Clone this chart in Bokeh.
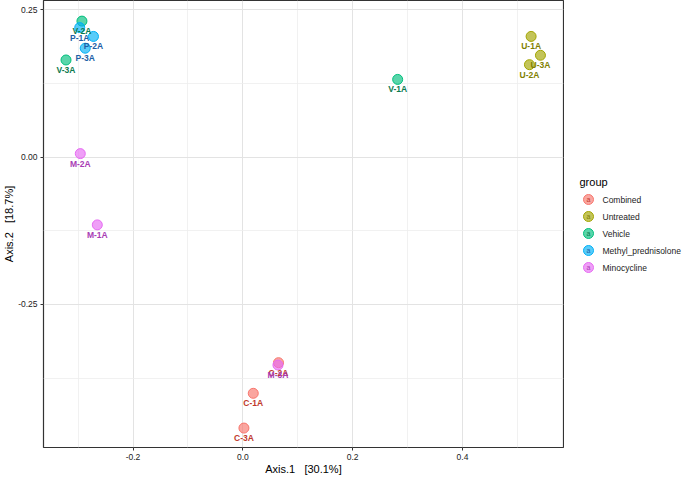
from bokeh.plotting import figure
from bokeh.layouts import row
from bokeh.models import (Range1d, FixedTicker, ColumnDataSource, NumeralTickFormatter)
from bokeh.embed import file_html
from bokeh.resources import INLINE
from bokeh.core.properties import value

# ---- data ----
groups = ["Combined", "Untreated", "Vehicle", "Methyl_prednisolone", "Minocycline"]
group_colors = ["#F8766D", "#A3A500", "#00BF7D", "#00B0F6", "#E76BF3"]
label_colors = ["#C0392B", "#7F7F00", "#0B7A4E", "#1D5FA6", "#A93CB5"]

samples = ["C-1A", "C-2A", "C-3A",
           "U-1A", "U-2A", "U-3A",
           "V-1A", "V-2A", "V-3A",
           "P-1A", "P-2A", "P-3A",
           "M-1A", "M-2A", "M-3A"]
sample_group = ["Combined"] * 3 + ["Untreated"] * 3 + ["Vehicle"] * 3 + \
               ["Methyl_prednisolone"] * 3 + ["Minocycline"] * 3
axis1 = [0.019, 0.065, 0.002,
         0.525, 0.522, 0.542,
         0.282, -0.293, -0.322,
         -0.297, -0.272, -0.287,
         -0.265, -0.296, 0.064]
axis2 = [-0.401, -0.349, -0.460,
         0.205, 0.157, 0.173,
         0.132, 0.231, 0.165,
         0.220, 0.205, 0.185,
         -0.115, 0.006, -0.353]

x_ticks = [-0.2, 0.0, 0.2, 0.4]
x_minor = [-0.3, -0.1, 0.1, 0.3, 0.5]
y_ticks = [-0.25, 0.0, 0.25]
y_minor = [-0.375, -0.125, 0.125]

x_title = "Axis.1\u00a0\u00a0\u00a0[30.1%]"
y_title = "Axis.2\u00a0\u00a0\u00a0[18.7%]"
legend_title = "group"
key_letter = "a"

FONT = "Liberation Sans"
FRAME_BOTTOM = 447

# ---------------- main panel ----------------
p = figure(width=564, height=477, output_backend="svg", toolbar_location=None,
           x_range=Range1d(-0.363, 0.584), y_range=Range1d(-0.493, 0.266),
           min_border_left=42, min_border_right=1, min_border_top=0,
           min_border_bottom=477 - FRAME_BOTTOM)
p.background_fill_color = "white"
p.border_fill_color = "white"
p.outline_line_color = "#333333"
p.outline_line_width = 1.2

for ax, ticks, minor, fmt, title in [(p.xaxis[0], x_ticks, x_minor, "0.0", x_title),
                                     (p.yaxis[0], y_ticks, y_minor, "0.00", y_title)]:
    ax.ticker = FixedTicker(ticks=ticks, minor_ticks=minor)
    ax.formatter = NumeralTickFormatter(format=fmt)
    ax.axis_label = title
    ax.axis_label_text_font = FONT
    ax.axis_label_text_font_size = "11px"
    ax.axis_label_text_font_style = "normal"
    ax.axis_label_text_color = "black"
    ax.major_label_text_font = FONT
    ax.major_label_text_font_size = "8.5px"
    ax.major_label_text_color = "#222222"
    ax.axis_line_color = None
    ax.major_tick_line_color = "#333333"
    ax.major_tick_in = 0
    ax.major_tick_out = 3
    ax.minor_tick_line_color = None
    ax.major_label_standoff = 2
    ax.axis_label_standoff = 0

for g in (p.xgrid[0], p.ygrid[0]):
    g.grid_line_color = "#E3E3E3"
    g.grid_line_width = 1
    g.minor_grid_line_color = "#EEEEEE"
    g.minor_grid_line_width = 0.8

text_specs = []
for gname, col, tcol in zip(groups, group_colors, label_colors):
    idx = [i for i, s in enumerate(sample_group) if s == gname]
    src = ColumnDataSource(dict(x=[axis1[i] for i in idx],
                                y=[axis2[i] for i in idx],
                                name=[samples[i] for i in idx]))
    p.scatter("x", "y", source=src, size=10, fill_color=col, fill_alpha=0.65,
              line_color=col, line_width=1)
    text_specs.append((src, tcol))

for src, tcol in text_specs:
    p.text("x", "y", text="name", source=src, text_font=value(FONT),
           text_font_size="8.5px", text_font_style="bold", text_color=tcol,
           text_align="center", text_baseline="top", y_offset=5)

# ---------------- legend panel (pixel coordinates) ----------------
LEFT, W, H = 564, 121, 477
lg = figure(width=W, height=H, output_backend="svg", toolbar_location=None,
            x_range=Range1d(LEFT, LEFT + W), y_range=Range1d(FRAME_BOTTOM, 0),
            x_axis_type=None, y_axis_type=None,
            min_border_left=0, min_border_right=0, min_border_top=0,
            min_border_bottom=477 - FRAME_BOTTOM)
lg.outline_line_color = None
lg.grid.visible = False
lg.background_fill_color = "white"
lg.border_fill_color = "white"

key_y = [199 + 17 * k for k in range(len(groups))]
key_src = ColumnDataSource(dict(x=[588] * len(groups), y=key_y, name=groups,
                                col=group_colors, tcol=label_colors,
                                letter=[key_letter] * len(groups)))
lg.text(x=[579], y=[181], text=[legend_title], text_font=value(FONT),
        text_font_size="11px", text_color="black", text_align="left",
        text_baseline="middle")
lg.scatter("x", "y", source=key_src, size=10, fill_color="col", fill_alpha=0.65,
           line_color="col", line_width=1)
lg.text("x", "y", text="letter", source=key_src, text_font=value(FONT),
        text_font_size="7px", text_color="tcol", text_align="center",
        text_baseline="middle", y_offset=-0.5)
lg.text("x", "y", text="name", source=key_src, text_font=value(FONT),
        text_font_size="8.5px", text_color="#222222", text_align="left",
        text_baseline="middle", x_offset=14)

open("out.html", "w").write(file_html(row(p, lg), INLINE))
